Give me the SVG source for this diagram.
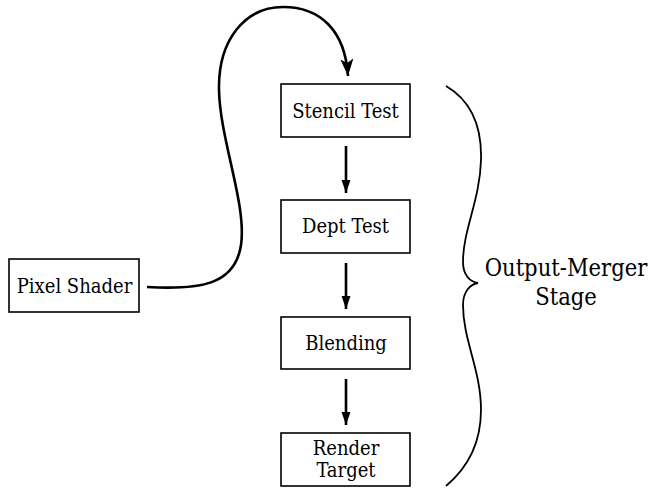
<svg xmlns="http://www.w3.org/2000/svg" width="652" height="498" viewBox="0 0 652 498">
<style>
.box{fill:#fff;stroke:#000;stroke-width:1.6}
.lbl{font-family:"DejaVu Serif Condensed","DejaVu Serif",serif;font-stretch:condensed;font-size:20px;fill:#000;text-anchor:middle}
.big{font-family:"DejaVu Serif Condensed","DejaVu Serif",serif;font-stretch:condensed;font-size:23.5px;fill:#000;text-anchor:middle}
.arr{fill:none;stroke:#000;stroke-width:2.6}
.brace{fill:none;stroke:#000;stroke-width:1.8}
</style>
<defs>
<marker id="head" markerUnits="userSpaceOnUse" markerWidth="16" markerHeight="12" refX="13" refY="0" viewBox="0 -6 16 12" orient="auto" overflow="visible">
<path d="M0,-4.5 L13,0 L0,4.5 z" fill="#000"/>
</marker>
<marker id="barb" markerUnits="userSpaceOnUse" markerWidth="20" markerHeight="14" refX="17" refY="0" viewBox="0 -7 20 14" orient="auto" overflow="visible">
<path d="M0,-6.5 L17,0 L0,6.5 L4,0 z" fill="#000"/>
</marker>
</defs>
<g id="connectors">
<path class="arr" d="M147,287 C200,290 235,285 241,245 C247,205 220,140 219,90 C218,40 245,7 283,7 C320,7 345,30 348,76" marker-end="url(#barb)"/>
<line class="arr" x1="346" y1="146" x2="346" y2="193" marker-end="url(#head)"/>
<line class="arr" x1="346" y1="263" x2="346" y2="309" marker-end="url(#head)"/>
<line class="arr" x1="346" y1="379" x2="346" y2="425" marker-end="url(#head)"/>
</g>
<g id="pixel-shader">
<rect class="box" x="9" y="259" width="130" height="53"/>
<text class="lbl" x="74.5" y="292.5">Pixel Shader</text>
</g>
<g id="stencil-test">
<rect class="box" x="281" y="84" width="129" height="53"/>
<text class="lbl" x="345.5" y="118">Stencil Test</text>
</g>
<g id="dept-test">
<rect class="box" x="281" y="200" width="129" height="53"/>
<text class="lbl" x="345.5" y="233">Dept Test</text>
</g>
<g id="blending">
<rect class="box" x="281" y="317" width="129" height="52"/>
<text class="lbl" x="346" y="350">Blending</text>
</g>
<g id="render-target">
<rect class="box" x="281" y="433" width="129" height="53"/>
<text class="lbl" x="346" y="455">Render</text>
<text class="lbl" x="346" y="477">Target</text>
</g>
<g id="output-merger">
<path class="brace" d="M446,86 C470,100 482,125 481,160 C480,200 463,230 463,262 C463,275 470,282 478,283 C470,284 463,292 463,305 C463,340 481,370 481,410 C481,445 465,470 446,486"/>
<text class="big" x="566" y="276">Output-Merger</text>
<text class="big" x="566" y="305">Stage</text>
</g>
</svg>
